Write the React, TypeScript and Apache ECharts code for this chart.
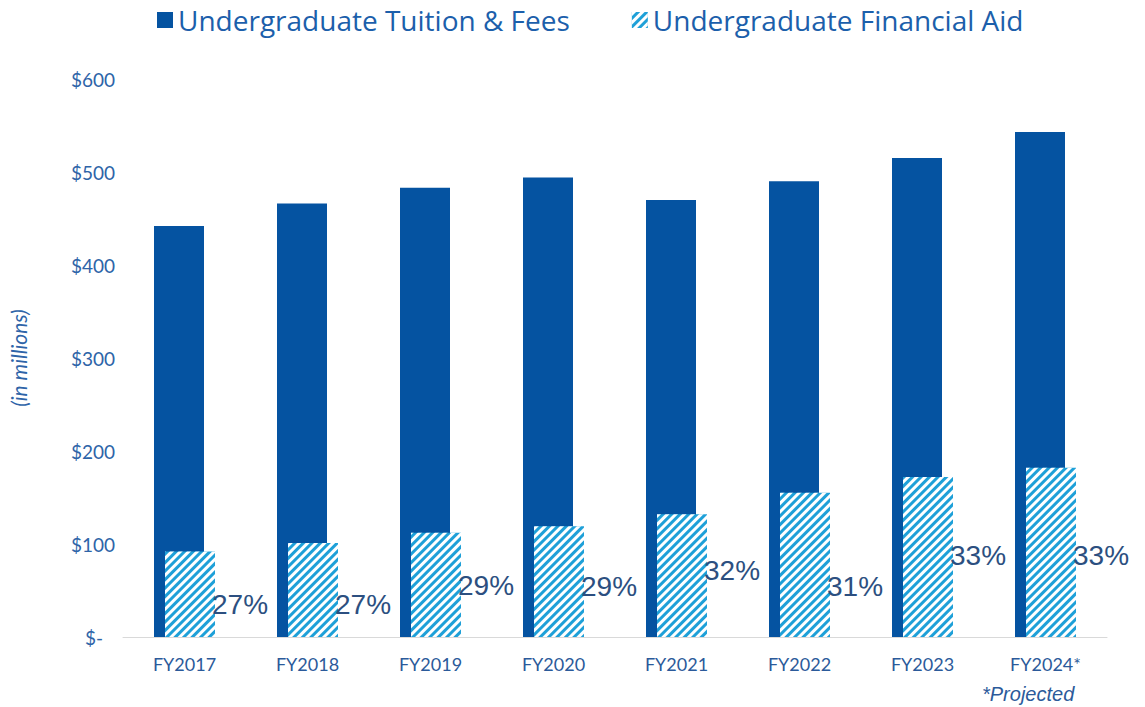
import React, { useEffect, useRef } from "react";
import * as echarts from "echarts";

const categories = ["FY2017", "FY2018", "FY2019", "FY2020", "FY2021", "FY2022", "FY2023", "FY2024*"];
const tuitionFees = [442, 466, 483, 494, 470, 490, 515, 543];
const financialAid = [92, 101, 112, 119, 132, 155, 172, 182];
const aidShareLabels = ["27%", "27%", "29%", "29%", "32%", "31%", "33%", "33%"];
const aidShareLabelHeights = [35, 35, 55, 54, 72, 54, 88, 88];
const yTicks = [0, 100, 200, 300, 400, 500, 600];

const DARK = "#0553a1";
const LIGHT = "#1ea0d8";

export default function App() {
  const ref = useRef<HTMLDivElement>(null);
  useEffect(() => {
    if (!ref.current) return;
    const chart = echarts.init(ref.current, null, { renderer: "svg" });
    const hatch = {
      symbol: "rect",
      color: "#ffffff",
      dashArrayX: [1, 0],
      dashArrayY: [2.1, 2.1],
      rotation: -Math.PI / 4,
      symbolSize: 1,
    };
    chart.setOption({
      animation: false,
      backgroundColor: "#ffffff",
      textStyle: { fontFamily: "Lato" },
      legend: {
        data: ["Undergraduate Tuition & Fees", "Undergraduate Financial Aid"],
        left: 152,
        top: 1,
        itemWidth: 16,
        itemHeight: 16,
        itemGap: 62,
        icon: "rect",
        textStyle: { fontFamily: "Open Sans", fontSize: 28, color: "#1c5fab", padding: [0, 0, 0, 0] },
      },
      grid: { left: 122, right: 38, top: 79, bottom: 70, containLabel: false },
      xAxis: {
        type: "category",
        data: categories,
        axisLine: { show: true, lineStyle: { color: "#d9d9d9", width: 1 } },
        axisTick: { show: false },
        axisLabel: { color: "#2b5a9a", fontSize: 18, fontFamily: "Lato", margin: 18 },
      },
      yAxis: {
        type: "value",
        min: 0,
        max: 600,
        interval: 100,
        name: "(in millions)",
        nameLocation: "middle",
        nameGap: 94,
        nameTextStyle: { color: "#2e64a8", fontSize: 21, fontStyle: "italic", fontFamily: "Lato" },
        splitLine: { show: false },
        axisLine: { show: false },
        axisTick: { show: false },
        axisLabel: {
          margin: 8,
          color: "#2e64a8",
          fontSize: 19,
          fontFamily: "Lato",
          formatter: (v: number) => (yTicks.indexOf(v) === 0 ? "{z|$-}" : "$" + v),
          rich: { z: { padding: [0, 12, 0, 0], color: "#2e64a8", fontSize: 19, fontFamily: "Lato" } },
        },
      },
      series: [
        {
          name: "Undergraduate Tuition & Fees",
          type: "bar",
          data: tuitionFees,
          barWidth: 50,
          barGap: "-78%",
          itemStyle: { color: DARK },
        },
        {
          name: "Undergraduate Financial Aid",
          type: "bar",
          data: financialAid,
          barWidth: 50,
          itemStyle: { color: LIGHT, decal: hatch },
        },
        {
          name: "share",
          type: "scatter",
          data: aidShareLabelHeights,
          symbolSize: 1,
          itemStyle: { color: "rgba(0,0,0,0)", opacity: 1 },
          z: 5,
          label: {
            show: true,
            position: "right",
            distance: 27,
            formatter: (p: any) => aidShareLabels[p.dataIndex],
            fontFamily: "Liberation Sans",
            fontSize: 28,
            color: "#2c4f80",
            opacity: 1,
          },
        },
      ],
      graphic: [
        {
          type: "text",
          left: 982,
          top: 684,
          style: {
            text: "*Projected",
            font: "italic 20px 'Liberation Sans'",
            fill: "#2b5a9a",
          },
        },
      ],
    });
    return () => chart.dispose();
  }, []);
  return <div ref={ref} style={{ position: "fixed", left: 0, top: 0, width: 1145, height: 707 }} />;
}
